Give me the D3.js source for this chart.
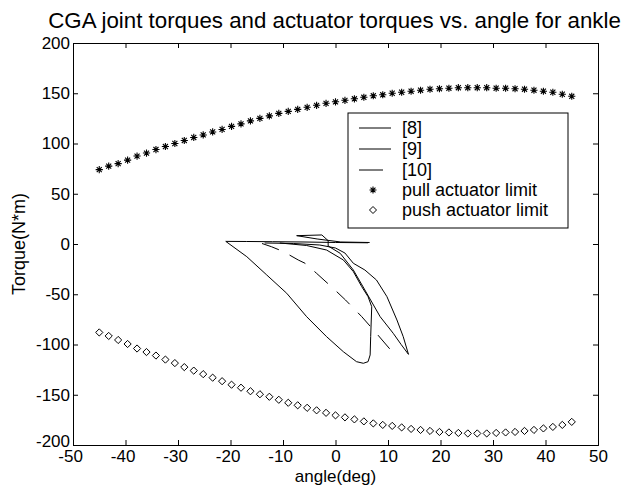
<!DOCTYPE html>
<html><head><meta charset="utf-8">
<script src="https://cdn.jsdelivr.net/npm/d3@7"></script>
<style>
body{margin:0;background:#fff}
text{font-family:"Liberation Sans",Arial,Helvetica,sans-serif;fill:#000}
</style>
</head><body>
<svg id="c" width="636" height="486"></svg>
<script>
// ---- data ----
const angles = [-45,-43.2,-41.4,-39.6,-37.8,-36,-34.2,-32.4,-30.6,-28.8,-27,-25.2,-23.4,-21.6,-19.8,-18,-16.2,-14.4,-12.6,-10.8,-9,-7.2,-5.4,-3.6,-1.8,0,1.8,3.6,5.4,7.2,9,10.8,12.6,14.4,16.2,18,19.8,21.6,23.4,25.2,27,28.8,30.6,32.4,34.2,36,37.8,39.6,41.4,43.2,45];
const pullLimit = [74,77.5,80,83.5,87.5,90.5,94,97,100,103,106,108.5,111.5,114,117,119.5,122.5,125,127.5,130,132,134,136,138,140,141.5,143,144.5,146,147.5,148.5,150,151,152,153,154,154.5,155,155.5,155.5,155.5,155.5,155,155,154.5,154,153,152,151,149,147];
const pushLimit = [-88,-91.5,-95.5,-99.5,-104,-107.5,-111,-115,-118.5,-122.5,-126,-129.5,-133,-136.5,-140,-143,-146.5,-149.5,-152,-155,-158,-160.5,-163,-165.5,-168,-170.5,-172.5,-174.5,-176.5,-178.5,-180,-181,-182.5,-184,-185,-186,-187,-187.5,-188,-188.5,-188.5,-188.5,-188,-187.5,-187,-186,-185,-183.5,-182,-180,-177];

const ref8Angle  = [6.2,0,-6,-12,-17,-20.9,-16.9,-13.1,-9.3,-5.5,-1.7,1.5,4.0,5.3,6.2,6.6,6.7,6.9,6.2,5.0,3.4,1.5,-1.7,-5.5,-10.6];
const ref8Torque = [1.2,1.5,2,2.3,2.5,2.6,-12.6,-30.8,-49,-72.3,-92.2,-107.2,-117.1,-118.7,-117.1,-110.4,-92.2,-62.4,-52.4,-42.5,-27.5,-15.9,-6,-1.5,1];
const ref9Angle  = [-13.5,-8,-3,0,1.8,3.4,5.6,7.8,9.8,11.7,12.9,13.9,12.5,11,8.5,5.6,3.4,0.9,-1.4,-1.4,-2.6,-7.4,-3.5,1,6.5];
const ref9Torque = [1,0.5,-1,-4,-9,-19.2,-25.9,-35.8,-52.4,-75.6,-92.2,-109.8,-100,-88.9,-72.3,-45.8,-25.9,-9.3,-2,3.3,9,8.3,5,2,1.5];
const ref10Angle  = [-14,-12.2,-9.9,-7.1,-5.8,-3.6,-0.3,1.9,5.0,7.8,10.8];
const ref10Torque = [0.5,-2.7,-7.6,-15.9,-19.2,-29.2,-44.8,-55.7,-72.3,-88.9,-107.2];

const xTicks = [-50,-40,-30,-20,-10,0,10,20,30,40,50];
const yTicks = [-200,-150,-100,-50,0,50,100,150,200];
const legendLabels = ["[8]","[9]","[10]","pull actuator limit","push actuator limit"];

// ---- layout ----
const L = 73, R = 598, T = 43, B = 445;
const svg = d3.select("#c");
const x = d3.scaleLinear().domain([-50,50]).range([L,R]);
const y = d3.scaleLinear().domain([-200,200]).range([B,T]);

// title
svg.append("text").attr("x",(L+R)/2 - 1).attr("y",28).attr("text-anchor","middle")
  .style("font-size","22.3px").text("CGA joint torques and actuator torques vs. angle for ankle");

// axes
const tickLen = 5;
const fmt = d => d < 0 ? "-" + Math.abs(d) : String(d);
const gx = svg.append("g").attr("transform",`translate(0,${B})`)
  .call(d3.axisBottom(x).tickValues(xTicks).tickSize(-tickLen).tickPadding(5).tickFormat(fmt));
const gxt = svg.append("g").attr("transform",`translate(0,${T})`)
  .call(d3.axisTop(x).tickValues(xTicks).tickSize(-tickLen).tickFormat(""));
const gy = svg.append("g").attr("transform",`translate(${L},0)`)
  .call(d3.axisLeft(y).tickValues(yTicks).tickSize(-tickLen).tickPadding(3).tickFormat(fmt));
const gyr = svg.append("g").attr("transform",`translate(${R},0)`)
  .call(d3.axisRight(y).tickValues(yTicks).tickSize(-tickLen).tickFormat(""));
[gx,gxt,gy,gyr].forEach(g=>{
  g.selectAll(".domain").attr("stroke","#000").attr("stroke-width",1);
  g.selectAll(".tick line").attr("stroke","#000");
  g.selectAll("text").style("font-size","17px").attr("font-family",null);
});
// MATLAB centres the digits on the tick; the minus sign hangs to the left
gx.selectAll(".tick text").attr("dx", d => d < 0 ? "-0.17em" : 0);
gy.selectAll(".tick text").attr("dy", d => d === -200 ? "0.08em" : "0.32em");

// axis labels
svg.append("text").attr("x",(L+R)/2).attr("y",482).attr("text-anchor","middle")
  .style("font-size","17px").text("angle(deg)");
svg.append("text").attr("transform",`translate(25,${(T+B)/2}) rotate(-90)`).attr("text-anchor","middle")
  .style("font-size","18px").text("Torque(N*m)");

// clip
svg.append("clipPath").attr("id","clip").append("rect").attr("x",L).attr("y",T).attr("width",R-L).attr("height",B-T);
const plot = svg.append("g").attr("clip-path","url(#clip)");

const line = d3.line().x(d=>x(d[0])).y(d=>y(d[1]));
const zip = (a,b)=>a.map((v,i)=>[v,b[i]]);
plot.append("path").datum(zip(ref8Angle,ref8Torque)).attr("d",line).attr("fill","none").attr("stroke","#000").attr("stroke-width",1);
plot.append("path").datum(zip(ref9Angle,ref9Torque)).attr("d",line).attr("fill","none").attr("stroke","#000").attr("stroke-width",1);
plot.append("path").datum(zip(ref10Angle,ref10Torque)).attr("d",line).attr("fill","none").attr("stroke","#000").attr("stroke-width",1).attr("stroke-dasharray","18,12");

// markers
const star = (g,cx,cy,s)=>{
  const p = `M${cx-s},${cy}L${cx+s},${cy}M${cx},${cy-s}L${cx},${cy+s}M${cx-s*0.7},${cy-s*0.7}L${cx+s*0.7},${cy+s*0.7}M${cx-s*0.7},${cy+s*0.7}L${cx+s*0.7},${cy-s*0.7}`;
  g.append("path").attr("d",p).attr("stroke","#000").attr("stroke-width",1.1).attr("fill","none");
};
const diamond = (g,cx,cy,s)=>{
  g.append("path").attr("d",`M${cx},${cy-s}L${cx+s},${cy}L${cx},${cy+s}L${cx-s},${cy}Z`)
   .attr("stroke","#000").attr("stroke-width",1).attr("fill","none");
};
const gp = plot.append("g");
angles.forEach((a,i)=>star(gp,x(a),y(pullLimit[i]),3.6));
const gq = plot.append("g");
angles.forEach((a,i)=>diamond(gq,x(a),y(pushLimit[i]),3.6));

// legend
const lg = svg.append("g");
lg.append("rect").attr("x",348).attr("y",113).attr("width",220).attr("height",115)
  .attr("fill","#fff").attr("stroke","#000").attr("stroke-width",1);
const rows = [128,149,170,190,210];
legendLabels.forEach((lab,i)=>{
  const ry = rows[i];
  if(i<3){
    const l = lg.append("line").attr("x1",359).attr("x2",391).attr("y1",ry).attr("y2",ry).attr("stroke","#000").attr("stroke-width",1);
    if(i===2) l.attr("stroke-dasharray","24,12");
  } else if(i===3){ star(lg,373,ry,3.5); }
  else { diamond(lg,373,ry,3.5); }
  lg.append("text").attr("x",402).attr("y",ry).attr("dy","0.35em").style("font-size","18px").text(lab);
});
</script>
</body></html>
